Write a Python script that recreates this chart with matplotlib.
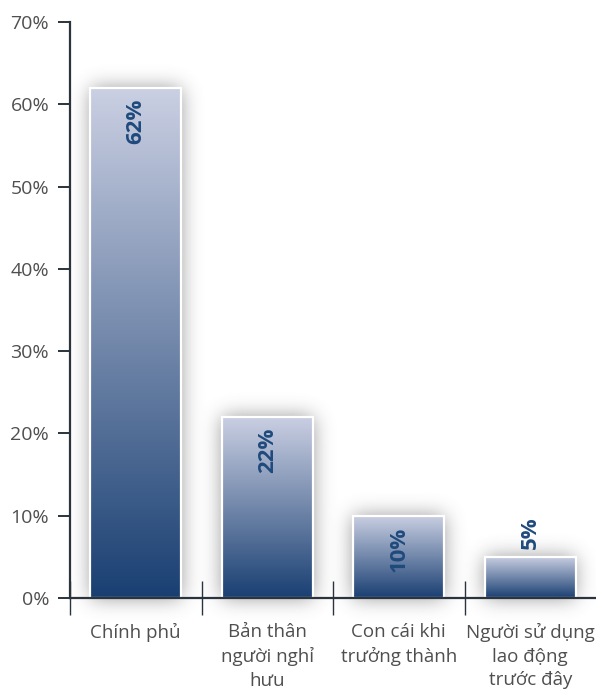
import numpy as np
import matplotlib.pyplot as plt
from matplotlib.colors import LinearSegmentedColormap

plt.rcParams['font.family'] = ['Open Sans', 'DejaVu Sans']

# data
categories = ['Chính phủ', 'Bản thân\nngười nghỉ\nhưu', 'Con cái khi\ntrưởng thành',
              'Người sử dụng\nlao động\ntrước đây']
values = [62, 22, 10, 5]
yticks = [0, 10, 20, 30, 40, 50, 60, 70]

W, H = 596, 692
fig = plt.figure(figsize=(W / 100, H / 100), dpi=100)
ax = fig.add_axes([70 / W, 94 / H, 526 / W, 576 / H])

x = np.arange(len(values))
bw = 0.69
ax.set_xlim(-0.5, len(values) - 0.5)
ax.set_ylim(0, 70)

# soft shadow behind the bars
px_y = 576 / 70               # pixels per percent
gx = np.linspace(-0.5, len(values) - 0.5, 526)
gy = np.linspace(-4, 70, int(74 * px_y))
XX, YY = np.meshgrid(gx, gy)
mask = np.zeros_like(XX)
for xi, v in zip(x, values):
    mask[(np.abs(XX - xi) <= bw / 2) & (YY <= v) & (YY >= 0)] = 1.0


def blur(a, sigma, axis):
    r = int(3 * sigma)
    k = np.exp(-0.5 * (np.arange(-r, r + 1) / sigma) ** 2)
    k /= k.sum()
    return np.apply_along_axis(lambda m: np.convolve(m, k, mode='same'), axis, a)


sh = blur(blur(mask, 10, 1), 10, 0)
rgba = np.zeros(sh.shape + (4,))
rgba[..., :3] = 0.3
rgba[..., 3] = np.clip(sh * 0.6, 0, 1)
ax.imshow(rgba, extent=[gx[0], gx[-1], gy[0], gy[-1]], origin='lower',
          aspect='auto', zorder=1, clip_on=False, interpolation='bilinear')

# gradient bars
cmap = LinearSegmentedColormap.from_list('bar', ['#193f72', '#cbd0e3'])
grad = np.linspace(0, 1, 256).reshape(-1, 1)
bars = ax.bar(x, values, width=bw, facecolor='none', edgecolor='white',
              linewidth=1.6, zorder=3)
for b in bars:
    x0, w, h = b.get_x(), b.get_width(), b.get_height()
    ax.imshow(grad, extent=[x0, x0 + w, 0, h], origin='lower', cmap=cmap,
              aspect='auto', zorder=2)

# value labels
for xi, v in zip(x, values):
    txt = f'{v}%'
    if v >= 8:
        ax.text(xi, v - 1.3, txt, rotation=90, ha='center', va='top',
                fontsize=16, fontweight='bold', color='#1f4a7c', zorder=4)
    else:
        ax.text(xi, v + 1.0, txt, rotation=90, ha='center', va='bottom',
                fontsize=16, fontweight='bold', color='#1f4a7c', zorder=4)

ax.set_xlim(-0.5, len(values) - 0.5)
ax.set_ylim(0, 70)

# axes styling
for s in ['top', 'right']:
    ax.spines[s].set_visible(False)
for s in ['left', 'bottom']:
    ax.spines[s].set_color('#2b333d')
    ax.spines[s].set_linewidth(1.6)
    ax.spines[s].set_zorder(5)

ax.set_yticks(yticks)
ax.set_yticklabels([f'{t}%' for t in yticks])
ax.tick_params(axis='y', length=9, width=1.4, color='#2b333d', pad=6,
               labelsize=14, labelcolor='#4f4f4f')

ax.set_xticks(np.arange(len(values)) - 0.5)
ax.set_xticklabels([])
ax.tick_params(axis='x', which='major', direction='inout', length=24, width=1.0,
               color='#2b333d')
ax.set_xticks(x, minor=True)
ax.set_xticklabels(categories, minor=True, linespacing=1.4)
ax.tick_params(axis='x', which='minor', length=0, pad=18, labelsize=13.5,
               labelcolor='#4f4f4f')

fig.savefig('out.png', dpi=100)
